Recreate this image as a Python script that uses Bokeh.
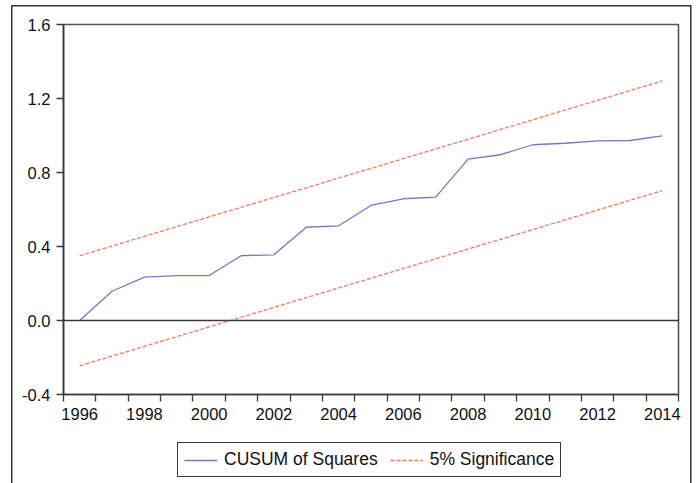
from bokeh.plotting import figure
from bokeh.layouts import column
from bokeh.models import Range1d, FixedTicker, Span, Legend, LegendItem
from bokeh.embed import file_html
from bokeh.resources import INLINE

years = [1996, 1997, 1998, 1999, 2000, 2001, 2002, 2003, 2004, 2005,
         2006, 2007, 2008, 2009, 2010, 2011, 2012, 2013, 2014]
cusum_sq = [0.0, 0.158, 0.234, 0.243, 0.243, 0.351, 0.355, 0.504, 0.512, 0.622,
            0.658, 0.667, 0.872, 0.896, 0.950, 0.958, 0.971, 0.973, 0.998]

# 5% significance bounds (straight lines, read at the ends)
band_years = [1996, 2014]
upper = [0.350, 1.295]
lower = [-0.245, 0.702]

x_labels = [1996, 1998, 2000, 2002, 2004, 2006, 2008, 2010, 2012, 2014]
x_ticks = [1995.5 + i for i in range(20)]
y_ticks = [-0.4, 0.0, 0.4, 0.8, 1.2, 1.6]

FONT = "Liberation Sans"
BLUE = "#7278c4"
ORANGE = "#f3775a"
DARK = "#3a3a3a"

p = figure(width=697, height=436, output_backend="svg", toolbar_location=None,
           x_range=Range1d(1995.5, 2014.5), y_range=Range1d(-0.4, 1.6),
           min_border_left=63, min_border_right=19, min_border_top=24, min_border_bottom=42)
p.border_fill_alpha = 0

p.xgrid.grid_line_color = None
p.ygrid.grid_line_color = None
p.outline_line_color = "#555555"
p.outline_line_width = 1.6

p.xaxis.ticker = FixedTicker(ticks=x_labels, minor_ticks=x_ticks)
p.xaxis.major_tick_line_color = None
p.xaxis.major_tick_out = 0
p.xaxis.major_tick_in = 0
p.xaxis.minor_tick_out = 7
p.xaxis.minor_tick_in = 0
p.xaxis.minor_tick_line_color = DARK
p.xaxis.minor_tick_line_width = 1.3
p.xaxis.major_label_standoff = 6

p.yaxis.ticker = FixedTicker(ticks=y_ticks, minor_ticks=[])
p.yaxis.major_label_overrides = {-0.4: "-0.4", 0.0: "0.0", 0.4: "0.4", 0.8: "0.8", 1.2: "1.2", 1.6: "1.6"}
p.yaxis.major_tick_out = 7
p.yaxis.major_tick_in = 0
p.yaxis.major_tick_line_color = DARK
p.yaxis.major_tick_line_width = 1.3
p.yaxis.minor_tick_line_color = None
p.yaxis.major_label_standoff = 6

for ax in (p.xaxis, p.yaxis):
    ax.axis_line_color = DARK
    ax.axis_line_width = 1.6
    ax.major_label_text_font = FONT
    ax.major_label_text_font_size = "16.5px"
    ax.major_label_text_color = "#111111"

p.add_layout(Span(location=0, dimension="width", line_color=DARK, line_width=1.3))

p.line(years, cusum_sq, line_color=BLUE, line_width=1.3)
p.line(band_years, upper, line_color=ORANGE, line_width=1.3, line_dash="4 2")
p.line(band_years, lower, line_color=ORANGE, line_width=1.3, line_dash="4 2")

# legend strip under the graph (its frame is aligned with the graph's frame)
leg = figure(width=697, height=47, output_backend="svg", toolbar_location=None,
             x_axis_type=None, y_axis_type=None, x_range=Range1d(0, 1), y_range=Range1d(0, 1),
             min_border=0)
leg.border_fill_alpha = 0
leg.background_fill_alpha = 0
leg.outline_line_color = None
leg.xgrid.grid_line_color = None
leg.ygrid.grid_line_color = None
# keys only: their points lie outside the strip's range
k1 = leg.line([5, 6], [5, 6], line_color=BLUE, line_width=1.3)
k2 = leg.line([5, 6], [5, 6], line_color=ORANGE, line_width=1.3, line_dash="4 2")

legend = Legend(items=[LegendItem(label="CUSUM of Squares", renderers=[k1]),
                       LegendItem(label="5% Significance", renderers=[k2])],
                orientation="horizontal", location=(114, 6),
                label_text_font=FONT, label_text_font_size="17.5px", label_text_color="#111111",
                glyph_width=33, glyph_height=20, label_height=20, label_standoff=7,
                spacing=12, padding=6, margin=0,
                border_line_color=DARK, border_line_width=1.3, border_line_alpha=1,
                background_fill_alpha=1)
leg.add_layout(legend, "center")

# outer frame of the whole graph, open at the bottom
bar = "linear-gradient(#333,#333)"
page = column(p, leg, spacing=0,
              styles={"background": f"{bar} 11px 5px / 1.5px 100% no-repeat, "
                                    f"{bar} 11px 5px / 680px 1.5px no-repeat, "
                                    f"{bar} 689.5px 5px / 1.5px 100% no-repeat, white"})

open("out.html", "w").write(file_html(page, INLINE))
